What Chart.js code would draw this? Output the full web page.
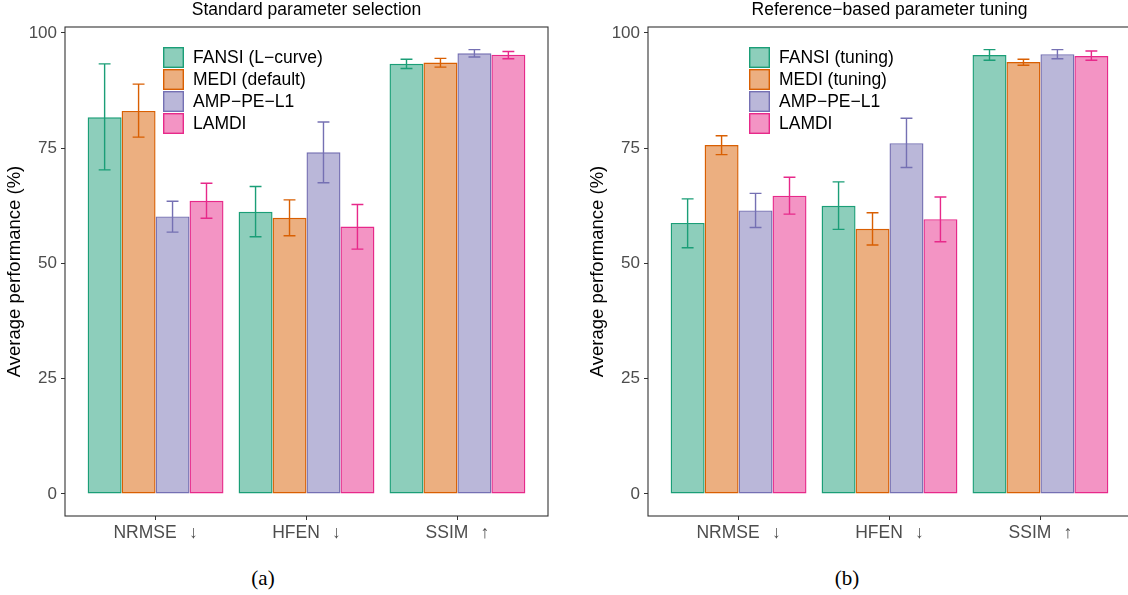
<!DOCTYPE html>
<html>
<head>
<meta charset="utf-8">
<script src="https://cdn.jsdelivr.net/npm/chart.js@4.4.0/dist/chart.umd.min.js"></script>
<style>
  html, body { margin: 0; padding: 0; background: #fff; overflow: hidden; width: 1128px; height: 595px; }
  .panel { position: absolute; top: 0; width: 564px; height: 560px; }
  .sub { position: absolute; top: 565px; width: 80px; text-align: center; line-height: 26px;
         font-family: 'Liberation Serif', 'DejaVu Serif', serif; font-size: 21px; color: #000; }
</style>
</head>
<body>
<div class="panel" style="left:0px"><canvas id="chartA" width="564" height="560"></canvas></div>
<div class="panel" style="left:583px"><canvas id="chartB" width="564" height="560"></canvas></div>
<div class="sub" style="left:223px">(a)</div>
<div class="sub" style="left:807px">(b)</div>

<script>
// Data (values in %)
const categories = ['NRMSE\u2002\u2009\u2193', 'HFEN\u2002\u2009\u2193', 'SSIM\u2002\u2009\u2191'];
const yTicks = [0, 25, 50, 75, 100];

const methodsA = ['FANSI (L\u2212curve)', 'MEDI (default)', 'AMP\u2212PE\u2212L1', 'LAMDI'];
// one row per method, one column per category
const meansA = [
  [81.7, 61.2, 93.3],
  [83.1, 59.9, 93.6],
  [60.2, 74.1, 95.6],
  [63.6, 58.0, 95.3],
];
const lowA = [
  [70.3, 55.8, 92.3],
  [77.4, 56.0, 92.6],
  [56.8, 67.5, 94.8],
  [59.8, 53.1, 94.4],
];
const highA = [
  [93.3, 66.7, 94.3],
  [88.9, 63.8, 94.5],
  [63.5, 80.7, 96.4],
  [67.4, 62.8, 96.0],
];

const methodsB = ['FANSI (tuning)', 'MEDI (tuning)', 'AMP\u2212PE\u2212L1', 'LAMDI'];
const meansB = [
  [58.8, 62.5, 95.2],
  [75.7, 57.5, 93.7],
  [61.5, 76.1, 95.4],
  [64.7, 59.6, 95.0],
];
const lowB = [
  [53.4, 57.4, 94.1],
  [73.6, 54.0, 93.0],
  [57.8, 70.8, 94.4],
  [60.7, 54.7, 94.1],
];
const highB = [
  [64.0, 67.7, 96.4],
  [77.7, 61.0, 94.3],
  [65.2, 81.5, 96.4],
  [68.7, 64.4, 96.1],
];

const lineColors = ['#1B9E77', '#D95F02', '#7570B3', '#E7298A'];
const fillColors = ['rgba(27,158,119,0.5)', 'rgba(217,95,2,0.5)', 'rgba(117,112,179,0.5)', 'rgba(231,41,138,0.5)'];

const FONT = "'Liberation Sans', Arial, sans-serif";

// error bars on top of the bars
const errorBars = {
  id: 'errorBars',
  afterDatasetsDraw(chart) {
    const ctx = chart.ctx;
    const y = chart.scales.y;
    chart.data.datasets.forEach((ds, i) => {
      const meta = chart.getDatasetMeta(i);
      meta.data.forEach((bar, j) => {
        const top = y.getPixelForValue(ds.errHigh[j]);
        const bot = y.getPixelForValue(ds.errLow[j]);
        const half = bar.width * 0.175;
        ctx.save();
        ctx.strokeStyle = ds.borderColor;
        ctx.lineWidth = 1.4;
        ctx.beginPath();
        ctx.moveTo(bar.x, top); ctx.lineTo(bar.x, bot);
        ctx.moveTo(bar.x - half, top); ctx.lineTo(bar.x + half, top);
        ctx.moveTo(bar.x - half, bot); ctx.lineTo(bar.x + half, bot);
        ctx.stroke();
        ctx.restore();
      });
    });
  }
};

// panel border + legend inside the panel
const frameAndLegend = {
  id: 'frameAndLegend',
  afterDraw(chart, args, opts) {
    const ctx = chart.ctx;
    const a = chart.chartArea;
    ctx.save();
    const kx = a.left + opts.x;
    const ky = a.top + opts.y;
    ctx.font = '17.5px ' + FONT;
    ctx.textBaseline = 'middle';
    ctx.textAlign = 'left';
    chart.data.datasets.forEach((ds, i) => {
      const top = ky + i * 22;
      ctx.fillStyle = '#fff';
      ctx.fillRect(kx, top, 21, 21);
      ctx.fillStyle = ds.backgroundColor;
      ctx.fillRect(kx, top, 21, 21);
      ctx.strokeStyle = ds.borderColor;
      ctx.lineWidth = 1.4;
      ctx.strokeRect(kx + 0.7, top + 0.7, 19.6, 19.6);
      ctx.fillStyle = '#000';
      ctx.fillText(ds.label, kx + 30, top + 11);
    });
    ctx.strokeStyle = '#333';
    ctx.lineWidth = 1.1;
    ctx.strokeRect(a.left, a.top, a.right - a.left, a.bottom - a.top);
    ctx.restore();
  }
};

function makePanel(id, title, methods, means, lows, highs, legendX) {
  const datasets = methods.map((m, i) => ({
    label: m,
    data: means[i].map((v, j) => ({ x: j + 1, y: v })),
    errLow: lows[i],
    errHigh: highs[i],
    backgroundColor: fillColors[i],
    borderColor: lineColors[i],
    borderWidth: 1.4,
    borderSkipped: false,
    categoryPercentage: 0.9,
    barPercentage: 1.0,
  }));

  return new Chart(document.getElementById(id), {
    type: 'bar',
    data: { datasets: datasets },
    plugins: [errorBars, frameAndLegend],
    options: {
      responsive: false,
      animation: false,
      layout: { padding: { left: 0, right: 16, top: 0, bottom: 0 } },
      plugins: {
        legend: { display: false },
        tooltip: { enabled: false },
        title: {
          display: true,
          text: title,
          fullSize: false,
          color: '#000',
          font: { family: FONT, size: 17.5, weight: 'normal', lineHeight: 1.2 },
          padding: { top: 0, bottom: 6 },
        },
        frameAndLegend: { x: legendX, y: 20 },
      },
      scales: {
        x: {
          type: 'linear',
          min: 0.4,
          max: 3.6,
          offset: false,
          afterBuildTicks: (s) => { s.ticks = categories.map((c, i) => ({ value: i + 1 })); },
          afterFit: (s) => { s.height = 44; },
          ticks: {
            callback: (v) => categories[v - 1],
            color: '#4d4d4d',
            font: { family: FONT, size: 17.5 },
            padding: 3,
            maxRotation: 0,
            autoSkip: false,
          },
          grid: { offset: false, drawOnChartArea: false, drawTicks: true, tickLength: 4, tickColor: '#333', tickWidth: 1 },
          border: { display: false },
        },
        y: {
          min: -4.8,
          max: 101.3,
          afterBuildTicks: (s) => { s.ticks = yTicks.map((v) => ({ value: v })); },
          afterFit: (s) => { s.width = 65; },
          ticks: {
            color: '#4d4d4d',
            font: { family: FONT, size: 17 },
            padding: 4,
          },
          grid: { drawOnChartArea: false, drawTicks: true, tickLength: 4, tickColor: '#333', tickWidth: 1 },
          border: { display: false },
          title: {
            display: true,
            text: 'Average performance (%)',
            color: '#000',
            font: { family: FONT, size: 18.5, lineHeight: 1.2 },
            padding: { top: 4, bottom: 0 },
          },
        },
      },
    },
  });
}

makePanel('chartA', 'Standard parameter selection', methodsA, meansA, lowA, highA, 98);
makePanel('chartB', 'Reference\u2212based parameter tuning', methodsB, meansB, lowB, highB, 101);
</script>
</body>
</html>
